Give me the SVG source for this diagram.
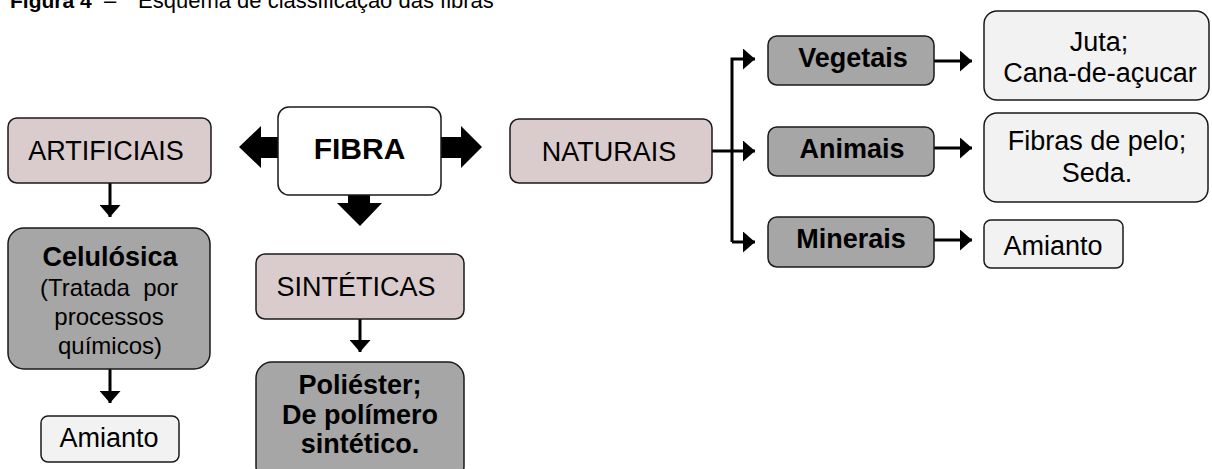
<svg xmlns="http://www.w3.org/2000/svg" width="1212" height="469" viewBox="0 0 1212 469">
  <style>
    text { font-family: "Liberation Sans", Arial, sans-serif; fill: #000; }
    .t { font-size: 27px; text-anchor: middle; }
    .b { font-weight: bold; }
    .s { font-size: 24px; text-anchor: middle; }
    .cap { font-size: 22px; }
    .box { stroke: #1a1a1a; stroke-width: 1.5; }
    .pink { fill: #dacccc; }
    .gray { fill: #a6a6a6; }
    .light { fill: #f2f2f2; }
    .white { fill: #ffffff; }
    .line { stroke: #000; stroke-width: 3; fill: none; }
    .block { fill: #000; }
  </style>
  <defs>
    <marker id="head" viewBox="0 0 12 21" refX="12" refY="10.5" markerWidth="12" markerHeight="21" markerUnits="userSpaceOnUse" orient="auto">
      <path d="M0,0 L12,10.5 L0,21 Z" fill="#000"/>
    </marker>
  </defs>

  <rect width="1212" height="469" fill="#ffffff"/>

  <!-- caption -->
  <text class="cap b" x="10" y="8" style="font-size:21px">Figura 4</text>
  <text class="cap" x="104" y="8">–</text>
  <text class="cap" x="138" y="8">Esquema de classificação das fibras</text>

  <!-- connectors -->
  <g id="connectors">
    <!-- block arrows around FIBRA -->
    <polygon class="block" points="279,137 261,137 261,126 239,147 261,168 261,158 279,158"/>
    <polygon class="block" points="440,137 461,137 461,126 482,147 461,168 461,158 440,158"/>
    <polygon class="block" points="348,194 370,194 370,203 382,203 360,226 337,203 348,203"/>

    <path class="line" d="M110,183 V217" marker-end="url(#head)"/>
    <path class="line" d="M110,369 V403" marker-end="url(#head)"/>
    <path class="line" d="M360,319 V352" marker-end="url(#head)"/>

    <!-- NATURAIS branches -->
    <path class="line" d="M712,151 H755" marker-end="url(#head)"/>
    <path class="line" d="M732,242 V59 H755" marker-end="url(#head)"/>
    <path class="line" d="M732,242 H755" marker-end="url(#head)"/>

    <path class="line" d="M934,61 H972" marker-end="url(#head)"/>
    <path class="line" d="M934,148 H972" marker-end="url(#head)"/>
    <path class="line" d="M934,240 H972" marker-end="url(#head)"/>
  </g>

  <g id="fibra">
    <rect class="box white" x="278" y="107" width="163" height="88" rx="11"/>
    <text class="t b" x="359.5" y="159" style="font-size:30px">FIBRA</text>
  </g>

  <g id="artificiais">
    <rect class="box pink" x="8" y="118" width="203" height="65" rx="9"/>
    <text class="t" x="106" y="160">ARTIFICIAIS</text>
  </g>

  <g id="naturais">
    <rect class="box pink" x="510" y="119" width="202" height="64" rx="9"/>
    <text class="t" x="609" y="161">NATURAIS</text>
  </g>

  <g id="sinteticas">
    <rect class="box pink" x="256" y="254" width="208" height="65" rx="9"/>
    <text class="t" x="356" y="296">SINTÉTICAS</text>
  </g>

  <g id="celulosica">
    <rect class="box gray" x="8" y="228" width="202" height="141" rx="16"/>
    <text class="t b" x="110" y="266">Celulósica</text>
    <text class="s" x="109" y="296" xml:space="preserve">(Tratada  por</text>
    <text class="s" x="109" y="325">processos</text>
    <text class="s" x="110" y="354">químicos)</text>
  </g>

  <g id="amianto-celulosica">
    <rect class="box light" x="41" y="416" width="138" height="46" rx="7"/>
    <text class="t" x="109" y="447">Amianto</text>
  </g>

  <g id="poliester">
    <rect class="box gray" x="256" y="362" width="208" height="120" rx="16"/>
    <text class="t b" x="360" y="394">Poliéster;</text>
    <text class="t b" x="360" y="424">De polímero</text>
    <text class="t b" x="360" y="453">sintético.</text>
  </g>

  <g id="vegetais">
    <rect class="box gray" x="768" y="36" width="166" height="49" rx="9"/>
    <text class="t b" x="853" y="67">Vegetais</text>
  </g>

  <g id="animais">
    <rect class="box gray" x="768" y="127" width="166" height="49" rx="9"/>
    <text class="t b" x="852" y="158">Animais</text>
  </g>

  <g id="minerais">
    <rect class="box gray" x="768" y="217" width="166" height="50" rx="9"/>
    <text class="t b" x="851" y="248">Minerais</text>
  </g>

  <g id="juta">
    <rect class="box light" x="984" y="11" width="225" height="89" rx="13"/>
    <text class="t" x="1099" y="51">Juta;</text>
    <text class="t" x="1100" y="82">Cana-de-açucar</text>
  </g>

  <g id="fibras-pelo">
    <rect class="box light" x="984" y="113" width="224" height="89" rx="13"/>
    <text class="t" x="1097" y="150">Fibras de pelo;</text>
    <text class="t" x="1097" y="182">Seda.</text>
  </g>

  <g id="amianto-minerais">
    <rect class="box light" x="984" y="220" width="139" height="48" rx="7"/>
    <text class="t" x="1053" y="255">Amianto</text>
  </g>
</svg>
